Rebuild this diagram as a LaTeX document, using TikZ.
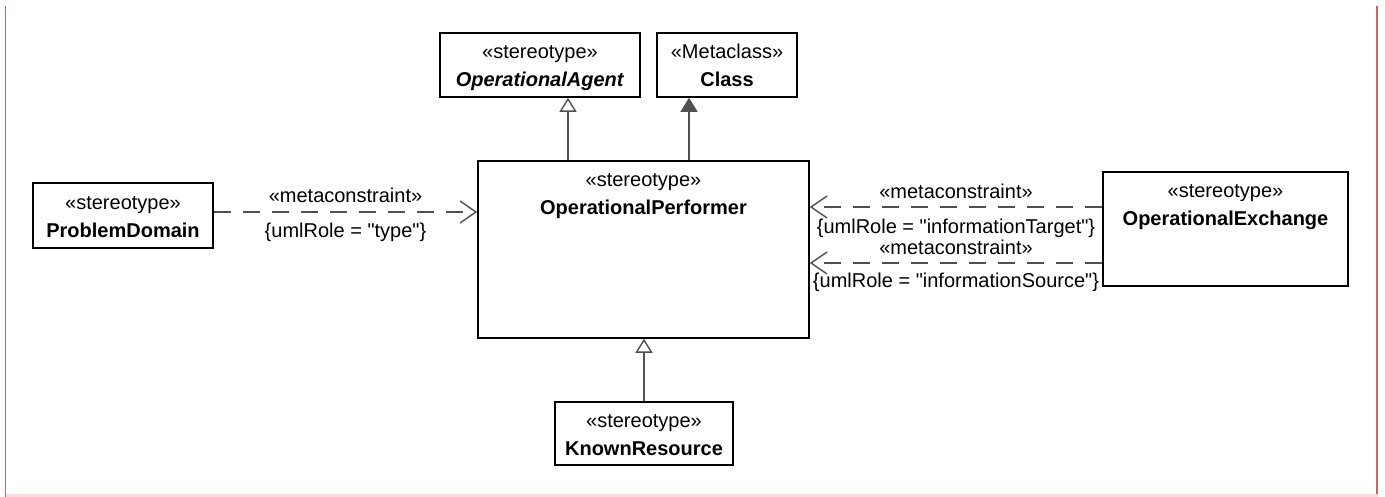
\documentclass[tikz,border=0pt]{standalone}
\usepackage{fontspec}
\setmainfont{Liberation Sans}
\usepackage{xcolor}
\usetikzlibrary{arrows.meta, positioning, calc}

\definecolor{linegray}{RGB}{80,80,80}
\definecolor{framered}{RGB}{208,96,106}
\definecolor{framepink}{RGB}{250,218,222}
\newcommand{\umlfont}{\fontsize{20}{28}\selectfont}
\newcommand{\stereo}[2]{\rule{0pt}{22pt}«#1»\\#2\rule[-6pt]{0pt}{6pt}}
\newcommand{\qq}[1]{\textquotedbl#1\textquotedbl}

\tikzset{
  classbox/.style={draw, line width=1.6pt, fill=white, align=center, inner sep=0pt, font=\umlfont},
  classtitle/.style={align=center, inner sep=0pt, font=\umlfont},
  realize/.style={draw=linegray, line width=1.4pt, -{Triangle[length=14pt, width=17pt, fill=white]}},
  extend/.style={draw=linegray, line width=1.4pt, -{Triangle[length=14pt, width=17pt, fill=linegray]}},
  constraint/.style={draw=linegray, line width=1.4pt, dash pattern=on 17pt off 12pt, -{Straight Barb[length=16pt, width=22pt]}},
  tag/.style={font=\umlfont, inner sep=6pt}
}

\begin{document}
\begin{tikzpicture}[x=1pt, y=-1pt]
  \useasboundingbox (0,0) rectangle (1385,497);
  % frame
  \fill[framepink] (5,494) rectangle (1378,497);
  \draw[framered, line width=1.5pt] (5.5,6) -- (5.5,497);
  \draw[framered, line width=1.5pt] (1377,6) -- (1377,494);

  % classes
  \node[classbox, minimum width=200pt, minimum height=64pt] (agent) at (540,65) {\stereo{stereotype}{\textbf{\textit{OperationalAgent}}}};
  \node[classbox, minimum width=140pt, minimum height=64pt] (metaclass) at (727,65) {\stereo{Metaclass}{\textbf{Class}}};
  \node[classbox, minimum width=331pt, minimum height=177pt] (performer) at (643.5,249.5) {};
  \node[classtitle, below=4pt of performer.north] (performertxt) {\stereo{stereotype}{\textbf{OperationalPerformer}}};
  \node[classbox, minimum width=180pt, minimum height=65pt] (domain) at (123,215.5) {\stereo{stereotype}{\textbf{ProblemDomain}}};
  \node[classbox, minimum width=245pt, minimum height=114pt] (exchange) at (1225.5,229) {};
  \node[classtitle, below=4pt of exchange.north] (exchangetxt) {\stereo{stereotype}{\textbf{OperationalExchange}}};
  \node[classbox, minimum width=178pt, minimum height=63pt] (known) at (644,433.5) {\stereo{stereotype}{\textbf{KnownResource}}};

  % generalizations
  \draw[realize] ([xshift=-75.5pt]performer.north) -- ([xshift=28pt]agent.south);
  \draw[extend] ([xshift=45.5pt]performer.north) -- ([xshift=-38pt]metaclass.south);
  \draw[realize] (known.north) -- (known.north |- performer.south);

  % metaconstraints
  \draw[constraint] ([yshift=3.5pt]domain.east) -- ([yshift=3.5pt]domain.east -| performer.west)
    node[tag, midway, above=3pt] {«metaconstraint»}
    node[tag, midway, below=4pt] {\{umlRole = \qq{type}\}};
  \draw[constraint] ([yshift=22pt]exchange.west) -- ([yshift=22pt]exchange.west -| performer.east)
    node[tag, midway, above=2pt] {«metaconstraint»}
    node[tag, midway, below=5pt] {\{umlRole = \qq{informationTarget}\}};
  \draw[constraint] ([yshift=-34pt]exchange.west) -- ([yshift=-34pt]exchange.west -| performer.east)
    node[tag, midway, above=2pt] {«metaconstraint»}
    node[tag, midway, below=3pt] {\{umlRole = \qq{informationSource}\}};
\end{tikzpicture}
\end{document}
